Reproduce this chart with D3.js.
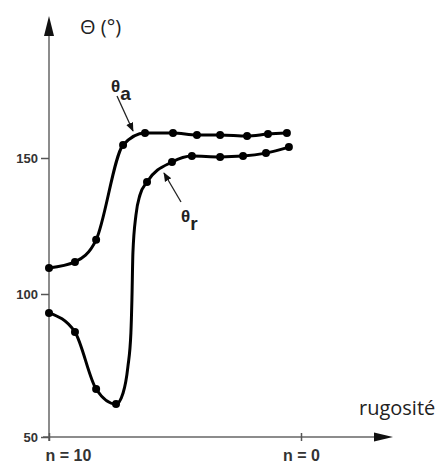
<!DOCTYPE html>
<html lang="fr">
<head>
<meta charset="UTF-8">
<title>Angle de contact</title>
<script src="https://d3js.org/d3.v7.min.js"></script>
<style>
    body { margin: 0; background: #fff; }
    .tick text { font-family: "Liberation Sans", Arial, sans-serif; font-weight: bold; fill: #333; }
</style>
</head>
<body>
<div id="plot"></div>
<script>
    // rugosity index n (10 = left, 0 = right) and contact angle in degrees
    let thetaA_n   = [10, 8.97, 8.13, 7.06, 6.19, 5.08, 4.13, 3.21, 2.14, 1.31, 0.56];
    let thetaA_val = [109.6, 111.8, 119.9, 154.8, 159.2, 159.2, 158.5, 158.5, 158.1, 158.8, 159.2];

    let thetaR_n      = [10, 8.97, 8.13, 7.34, 7.06, 6.87, 6.75, 6.71, 6.67, 6.55, 6.39, 6.11, 5.12, 4.33, 3.21, 2.30, 1.39, 0.48];
    let thetaR_val    = [93.4, 86.7, 66.8, 61.5, 65.4, 74.5, 86.4, 97.9, 115.1, 129.0, 136.4, 141.2, 148.5, 150.7, 150.4, 150.7, 151.8, 154.0];
    let thetaR_marked = [1, 1, 1, 1, 0, 0, 0, 0, 0, 0, 0, 1, 1, 1, 1, 1, 1, 1];

    let yTicks = [50, 100, 150];
    let xTicks = [10, 0];
    let xTickLabels = ['n = 10', 'n = 0'];

    function translate(x, y){
        return 'translate(' + x + ', ' + y + ')';
    }

    let svg = d3.select('#plot')
                .append('svg')
                .attr('width', 440)
                .attr('height', 466);

    let x = d3.scaleLinear().domain([10, 0]).range([49, 301]);
    let y = d3.scaleLinear().domain([50, 100, 150]).range([437, 294, 158]);

    // axes lines with arrows
    svg.append('line')
        .attr('x1', 49).attr('y1', 30).attr('x2', 49).attr('y2', 441)
        .attr('stroke', '#666').attr('stroke-width', 1.5);
    svg.append('path')
        .attr('d', 'M44,36 L49,16 L54,36 Z')
        .attr('fill', '#111');
    svg.append('line')
        .attr('x1', 43).attr('y1', 437).attr('x2', 378).attr('y2', 437)
        .attr('stroke', '#666').attr('stroke-width', 1.5);
    svg.append('path')
        .attr('d', 'M374,432.5 L393,437 L374,441.5 Z')
        .attr('fill', '#111');

    let yAxis = d3.axisLeft(y).tickValues(yTicks).tickSize(8).tickPadding(3);
    let gy = svg.append('g').attr('transform', translate(49, 0)).call(yAxis);
    gy.select('.domain').remove();
    gy.selectAll('.tick line').attr('stroke', '#555').attr('stroke-width', 1.5);
    gy.selectAll('.tick text').style('font-size', '13px');

    let xAxis = d3.axisBottom(x).tickValues(xTicks).tickSize(4).tickPadding(9)
                    .tickFormat((d, i) => xTickLabels[i]);
    let gx = svg.append('g').attr('transform', translate(0, 437)).call(xAxis);
    gx.select('.domain').remove();
    gx.selectAll('.tick line').attr('y1', -4).attr('stroke', '#555').attr('stroke-width', 1.5);
    gx.selectAll('.tick text').style('font-size', '16px')
        .attr('text-anchor', (d, i) => i == 0 ? 'start' : 'middle')
        .attr('dx', (d, i) => i == 0 ? -4 : 0);

    let line = d3.line()
        .x(d => x(d[0]))
        .y(d => y(d[1]))
        .curve(d3.curveMonotoneX);

    let aData = thetaA_n.map((n, i) => [n, thetaA_val[i]]);
    let rData = thetaR_n.map((n, i) => [n, thetaR_val[i], thetaR_marked[i]]);

    [aData, rData].forEach(function(data){
        svg.append('path')
            .datum(data)
            .attr('d', line)
            .attr('fill', 'none')
            .attr('stroke', '#000')
            .attr('stroke-width', 3);
    });

    svg.selectAll('circle.a')
        .data(aData)
        .enter().append('circle')
        .attr('class', 'a')
        .attr('r', 4)
        .attr('cx', d => x(d[0]))
        .attr('cy', d => y(d[1]));

    svg.selectAll('circle.r')
        .data(rData.filter(d => d[2]))
        .enter().append('circle')
        .attr('class', 'r')
        .attr('r', 4)
        .attr('cx', d => x(d[0]))
        .attr('cy', d => y(d[1]));

    // annotations
    svg.append('defs').append('marker')
        .attr('id', 'head')
        .attr('viewBox', '0 0 10 10')
        .attr('refX', 9).attr('refY', 5)
        .attr('markerWidth', 7).attr('markerHeight', 7)
        .attr('orient', 'auto')
        .append('path').attr('d', 'M0,1 L10,5 L0,9 Z').attr('fill', '#111');

    svg.append('line')
        .attr('x1', 117).attr('y1', 96).attr('x2', 133).attr('y2', 131)
        .attr('stroke', '#222').attr('stroke-width', 1.3)
        .attr('marker-end', 'url(#head)');
    svg.append('line')
        .attr('x1', 181).attr('y1', 202).attr('x2', 164).attr('y2', 173)
        .attr('stroke', '#222').attr('stroke-width', 1.3)
        .attr('marker-end', 'url(#head)');

    let labA = svg.append('text').attr('x', 111).attr('y', 92)
        .style('font-family', '"Liberation Sans", Arial, sans-serif').style('font-weight', 'bold')
        .style('font-size', '17px').attr('fill', '#222');
    labA.append('tspan').text('θ');
    labA.append('tspan').attr('dy', 8).style('font-size', '19px').text('a');

    let labR = svg.append('text').attr('x', 181).attr('y', 222)
        .style('font-family', '"Liberation Sans", Arial, sans-serif').style('font-weight', 'bold')
        .style('font-size', '17px').attr('fill', '#222');
    labR.append('tspan').text('θ');
    labR.append('tspan').attr('dy', 8).style('font-size', '19px').text('r');

    svg.append('text').attr('x', 80).attr('y', 34)
        .style('font-family', '"Open Sans", sans-serif').style('font-size', '20px')
        .attr('fill', '#222').text('Θ (°)');

    svg.append('text').attr('x', 359).attr('y', 415)
        .style('font-family', '"Open Sans", sans-serif').style('font-size', '20px')
        .attr('fill', '#222').text('rugosité');
</script>
</body>
</html>
